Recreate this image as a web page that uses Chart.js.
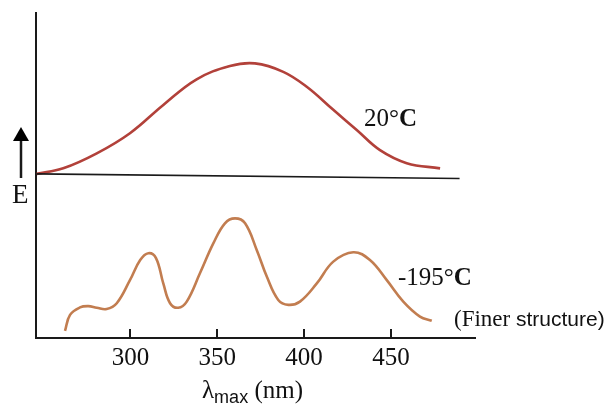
<!DOCTYPE html>
<html>
<head>
<meta charset="utf-8">
<script src="https://cdn.jsdelivr.net/npm/chart.js@4.4.1/dist/chart.umd.min.js"></script>
<style>
html,body{margin:0;padding:0;background:#fff;}
#wrap{width:609px;height:409px;position:relative;}
</style>
</head>
<body>
<div id="wrap"><canvas id="c" width="609" height="409"></canvas></div>
<script>
// Data (x: wavelength nm, y: relative E, 0-100)
const xTicks = [300, 350, 400, 450];
const warmX = [246.0, 261.3, 280.6, 299.7, 318.9, 338.1, 357.3, 371.7, 388.0, 401.5, 416.8, 430.3, 443.7, 459.1, 478.3];
const warmY = [50.5, 52.2, 56.8, 63.0, 71.7, 79.6, 83.7, 84.5, 81.9, 77.3, 70.2, 64.0, 57.8, 53.8, 52.2];
const coldX = [262.3, 265.2, 270.9, 275.7, 280.6, 286.3, 292.1, 299.7, 305.6, 310.3, 314.7, 318.9, 322.8, 327.5, 332.4, 340.0, 347.7, 354.4, 360.2, 366.0, 372.7, 378.5, 385.1, 390.9, 397.6, 407.3, 416.8, 428.3, 437.9, 447.6, 457.1, 466.7, 473.5];
const coldY = [2.2, 7.1, 9.4, 9.8, 9.3, 8.9, 10.7, 17.8, 24.0, 26.1, 24.6, 16.8, 10.7, 9.3, 11.2, 19.9, 29.1, 35.3, 36.8, 35.3, 27.1, 18.9, 11.7, 10.2, 11.2, 16.8, 23.5, 26.4, 24.0, 17.8, 11.2, 6.6, 5.3];
const baseX = [246.0, 489.5];
const baseY = [50.5, 49.1];

const toPts = (xs, ys) => xs.map((x, i) => ({x: x, y: ys[i]}));

const SERIF = '"Liberation Serif", "Times New Roman", serif';
const SANS = '"Liberation Sans", Arial, sans-serif';

const decor = {
  id: 'decor',
  afterDraw(chart) {
    const ctx = chart.ctx;
    const xs = chart.scales.x;
    const bottom = chart.chartArea.bottom;
    ctx.save();
    // tick marks pointing up
    ctx.strokeStyle = '#1a1a1a';
    ctx.lineWidth = 2;
    xTicks.forEach(v => {
      const px = Math.round(xs.getPixelForValue(v));
      ctx.beginPath();
      ctx.moveTo(px, bottom);
      ctx.lineTo(px, bottom - 9);
      ctx.stroke();
    });
    // E arrow
    ctx.lineWidth = 2.5;
    ctx.beginPath();
    ctx.moveTo(21, 178);
    ctx.lineTo(21, 138);
    ctx.stroke();
    ctx.fillStyle = '#000';
    ctx.beginPath();
    ctx.moveTo(13, 141);
    ctx.lineTo(29, 141);
    ctx.lineTo(21, 127);
    ctx.closePath();
    ctx.fill();
    ctx.textBaseline = 'alphabetic';
    ctx.textAlign = 'left';
    ctx.fillStyle = '#111';
    ctx.font = '27px ' + SERIF;
    ctx.fillText('E', 12, 203);
    // 20°C
    let t = '20°';
    ctx.font = '25px ' + SERIF;
    ctx.fillText(t, 364, 126);
    let w = ctx.measureText(t).width;
    ctx.font = 'bold 25px ' + SERIF;
    ctx.fillText('C', 364 + w, 126);
    // -195°C
    t = '-195°';
    ctx.font = '25px ' + SERIF;
    ctx.fillText(t, 398, 285);
    w = ctx.measureText(t).width;
    ctx.font = 'bold 25px ' + SERIF;
    ctx.fillText('C', 398 + w, 285);
    // (Finer structure)
    t = '(Finer ';
    ctx.font = '23px ' + SERIF;
    ctx.fillText(t, 454, 326);
    w = ctx.measureText(t).width;
    ctx.font = '21px ' + SANS;
    ctx.fillText('structure)', 454 + w, 326);
    // x title
    ctx.font = '25px ' + SERIF;
    ctx.fillText('λ', 202, 398);
    w = ctx.measureText('λ').width;
    ctx.font = '18px ' + SANS;
    ctx.fillText('max', 202 + w, 403);
    const w2 = ctx.measureText('max').width;
    ctx.font = '25px ' + SERIF;
    ctx.fillText(' (nm)', 202 + w + w2, 398);
    ctx.restore();
  }
};

new Chart(document.getElementById('c'), {
  type: 'line',
  data: {
    datasets: [
      {data: toPts(baseX, baseY), borderColor: '#1a1a1a', borderWidth: 1.6, pointRadius: 0, tension: 0},
      {data: toPts(warmX, warmY), borderColor: '#b2413a', borderWidth: 2.6, pointRadius: 0, tension: 0.4},
      {data: toPts(coldX, coldY), borderColor: '#c27d50', borderWidth: 2.6, pointRadius: 0, tension: 0.4}
    ]
  },
  options: {
    responsive: false,
    animation: false,
    events: [],
    layout: {padding: {left: 36, top: 13, right: 134, bottom: 22}},
    plugins: {legend: {display: false}, tooltip: {enabled: false}},
    scales: {
      x: {
        type: 'linear',
        min: 245.6,
        max: 498.4,
        afterBuildTicks: s => { s.ticks = xTicks.map(v => ({value: v})); },
        afterFit: s => { s.height = 49; },
        grid: {display: false, drawTicks: false},
        border: {display: true, color: '#1a1a1a', width: 2},
        ticks: {
          color: '#111',
          padding: 5,
          maxRotation: 0,
          autoSkip: false,
          font: {family: SERIF, size: 25},
          callback: v => String(v)
        }
      },
      y: {
        type: 'linear',
        min: 0,
        max: 100,
        afterFit: s => { s.width = 0; },
        grid: {display: false, drawTicks: false},
        border: {display: true, color: '#1a1a1a', width: 2},
        ticks: {display: false}
      }
    }
  },
  plugins: [decor]
});
</script>
</body>
</html>
